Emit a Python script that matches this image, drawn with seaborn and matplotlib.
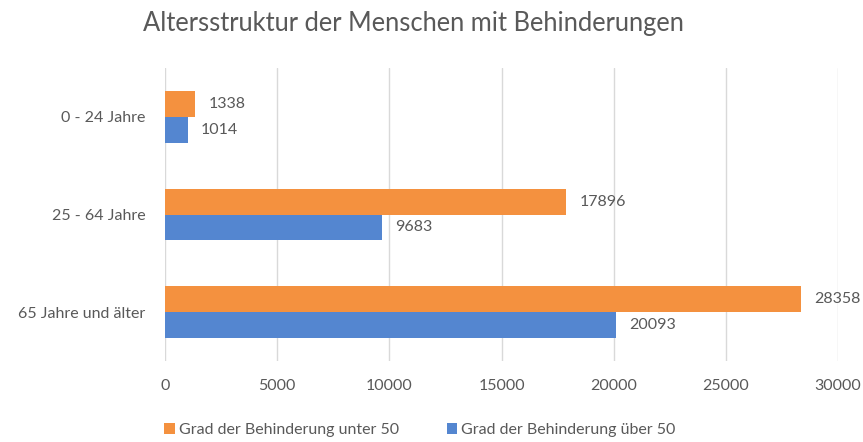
import matplotlib
matplotlib.use("Agg")
import matplotlib.pyplot as plt
import seaborn as sns
import pandas as pd
from matplotlib.patches import Patch

categories = ["0 - 24 Jahre", "25 - 64 Jahre", "65 Jahre und älter"]
series_names = ["Grad der Behinderung unter 50", "Grad der Behinderung über 50"]
unter_50 = [1338, 17896, 28358]
ueber_50 = [1014, 9683, 20093]
x_ticks = [0, 5000, 10000, 15000, 20000, 25000, 30000]
colors = ["#F4913F", "#5486D0"]
title = "Altersstruktur der Menschen mit Behinderungen"

df = pd.DataFrame({
    "Kategorie": categories * 2,
    "Serie": [series_names[0]] * 3 + [series_names[1]] * 3,
    "Wert": unter_50 + ueber_50,
})

sns.set_theme(style="white")
plt.rcParams["font.family"] = ["Lato", "DejaVu Sans"]
text_col = "#595959"
fs = 11.5

fig = plt.figure(figsize=(8.63, 4.42), dpi=100)
ax = fig.add_axes([165 / 863, 1 - 361 / 442, (838 - 165) / 863, (361 - 68) / 442])

sns.barplot(data=df, y="Kategorie", x="Wert", hue="Serie", order=categories,
            hue_order=series_names, palette=colors, orient="h", width=0.53,
            saturation=1, ax=ax, legend=False, edgecolor="none")

ax.set_xlim(0, 30000)
ax.set_ylim(2.5, -0.5)
ax.set_xticks(x_ticks)
ax.set_xticklabels([str(t) for t in x_ticks])
ax.grid(axis="x", color="#D9D9D9", linewidth=1)
ax.set_axisbelow(True)
for s in ax.spines.values():
    s.set_visible(False)
ax.set_xlabel("")
ax.set_ylabel("")
ax.tick_params(axis="both", length=0, labelsize=fs, colors=text_col)
ax.tick_params(axis="y", pad=14)
ax.tick_params(axis="x", pad=13)

for cont in ax.containers:
    ax.bar_label(cont, labels=[f"{int(v)}" for v in cont.datavalues], padding=9.5,
                 fontsize=fs, color=text_col)

fig.text(413 / 863, 1 - 24 / 442, title, ha="center", va="center", fontsize=18.4,
         color=text_col)

handles = [Patch(facecolor=c, edgecolor="none") for c in colors]
fig.legend(handles, series_names, loc="center", bbox_to_anchor=(420 / 863, 1 - 430 / 442),
           ncol=2, frameon=False, fontsize=fs, labelcolor=text_col,
           handlelength=0.65, handleheight=0.65, handletextpad=0.25, columnspacing=3.0)

fig.savefig("out.png", dpi=100)
